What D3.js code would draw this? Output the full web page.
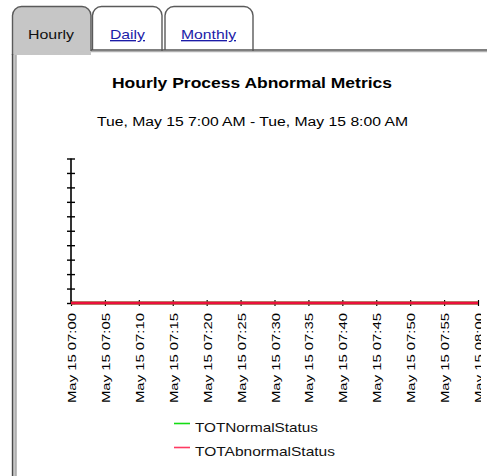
<!DOCTYPE html>
<html>
<head>
<meta charset="utf-8">
<script src="https://cdn.jsdelivr.net/npm/d3@7"></script>
<style>
  html, body { margin: 0; padding: 0; background: #fff; overflow: hidden; }
  svg { display: block; font-family: "Liberation Sans", Arial, Helvetica, sans-serif; }
</style>
</head>
<body>
<svg id="page" width="487" height="476"></svg>
<script>
// Five-minute sample times across the hour
const timeLabels = [
  "May 15 07:00", "May 15 07:05", "May 15 07:10", "May 15 07:15", "May 15 07:20",
  "May 15 07:25", "May 15 07:30", "May 15 07:35", "May 15 07:40", "May 15 07:45",
  "May 15 07:50", "May 15 07:55", "May 15 08:00"
];
// Status counts per sample
const totNormalStatus   = [0, 0, 0, 0, 0, 0, 0, 0, 0, 0, 0, 0, 0];
const totAbnormalStatus = [0, 0, 0, 0, 0, 0, 0, 0, 0, 0, 0, 0, 0];
// Unlabelled value ticks on the vertical axis
const yTickValues = [0, 1, 2, 3, 4, 5, 6, 7, 8, 9, 10];
const seriesNames = ["TOTNormalStatus", "TOTAbnormalStatus"];
const tabNames = ["Hourly", "Daily", "Monthly"];
const chartTitle = "Hourly Process Abnormal Metrics";
const chartSubtitle = "Tue, May 15 7:00 AM - Tue, May 15 8:00 AM";

const svg = d3.select("#page");
const W = 487, H = 476;

// ---------- tab strip and panel ----------
const tabs = [
  { name: tabNames[0], x0: 12.5, x1: 91, active: true,  tx: 28,  tw: 46 },
  { name: tabNames[1], x0: 92.5, x1: 162, active: false, tx: 110, tw: 35 },
  { name: tabNames[2], x0: 165, x1: 253, active: false, tx: 181, tw: 55 }
];
const tabR = 9, tabTop = 6.5, lineY = 50, panelTop = 55;

// gray frame strip under the active tab and down the left side
svg.append("rect").attr("x", 12.5).attr("y", lineY - 2).attr("width", 78.5).attr("height", panelTop - lineY + 2)
  .attr("fill", "#c6c6c6");
svg.append("rect").attr("x", 12.5).attr("y", lineY).attr("width", 4).attr("height", H)
  .attr("fill", "#c6c6c6");

tabs.forEach(t => {
  const bottom = t.active ? panelTop : lineY;
  const p = d3.path();
  p.moveTo(t.x0, bottom);
  p.lineTo(t.x0, tabTop + tabR);
  p.arcTo(t.x0, tabTop, t.x0 + tabR, tabTop, tabR);
  p.lineTo(t.x1 - tabR, tabTop);
  p.arcTo(t.x1, tabTop, t.x1, tabTop + tabR, tabR);
  p.lineTo(t.x1, lineY + 1);
  svg.append("path").attr("d", p.toString())
    .attr("fill", t.active ? "#c6c6c6" : "#fff")
    .attr("stroke", "#5a5a5a").attr("stroke-width", 1.4);
  svg.append("text")
    .attr("x", t.tx).attr("y", 39)
    .attr("font-size", 13.5)
    .attr("textLength", t.tw).attr("lengthAdjust", "spacingAndGlyphs")
    .attr("fill", t.active ? "#111" : "#1c1ca8")
    .attr("text-decoration", t.active ? null : "underline")
    .text(t.name);
});
// panel left frame: dark outer edge, light inner edge
svg.append("line").attr("x1", 12.5).attr("x2", 12.5).attr("y1", panelTop - 1).attr("y2", H)
  .attr("stroke", "#4a4a4a").attr("stroke-width", 1.4);
svg.append("line").attr("x1", 16).attr("x2", 16).attr("y1", panelTop).attr("y2", H)
  .attr("stroke", "#9a9a9a").attr("stroke-width", 1);
// panel top rule beside the active tab
svg.append("line").attr("x1", 91).attr("x2", W).attr("y1", lineY).attr("y2", lineY)
  .attr("stroke", "#555").attr("stroke-width", 1.3);
svg.append("line").attr("x1", 91).attr("x2", W).attr("y1", lineY + 1.6).attr("y2", lineY + 1.6)
  .attr("stroke", "#b0b0b0").attr("stroke-width", 1.2);

// ---------- titles ----------
svg.append("text").attr("x", 112).attr("y", 87.5)
  .attr("font-size", 15).attr("font-weight", "bold")
  .attr("textLength", 280).attr("lengthAdjust", "spacingAndGlyphs")
  .attr("fill", "#000").text(chartTitle);
svg.append("text").attr("x", 97).attr("y", 126)
  .attr("font-size", 12.5)
  .attr("textLength", 311).attr("lengthAdjust", "spacingAndGlyphs")
  .attr("fill", "#000").text(chartSubtitle);

// ---------- chart ----------
const chart = svg.append("g");
chart.append("clipPath").attr("id", "plotclip")
  .append("rect").attr("x", 0).attr("y", 140).attr("width", 481).attr("height", 300);
const plot = chart.append("g").attr("clip-path", "url(#plotclip)");

const x = d3.scalePoint().domain(timeLabels).range([71, 478]);
const y = d3.scaleLinear().domain([0, 10]).range([303, 158.5]);

// vertical axis: ticks cross the axis line, no labels
const yAxis = plot.append("g").attr("transform", "translate(71,0)")
  .call(d3.axisLeft(y).tickValues(yTickValues).tickSize(4).tickFormat(""));
yAxis.select(".domain").remove();
yAxis.append("line").attr("x1", 0).attr("x2", 0)
  .attr("y1", y(10)).attr("y2", y(0)).attr("stroke", "#000").attr("stroke-width", 1.6);
yAxis.selectAll(".tick line").attr("x1", -4).attr("x2", 4)
  .attr("stroke", "#000").attr("stroke-width", 1.4);

// horizontal axis with rotated time labels
const xAxis = plot.append("g").attr("transform", `translate(0,${y(0)})`)
  .call(d3.axisBottom(x).tickSize(3));
xAxis.select(".domain").remove();
xAxis.selectAll(".tick line").attr("y1", -3).attr("y2", 3)
  .attr("stroke", "#000").attr("stroke-width", 1.2);
xAxis.selectAll(".tick text")
  .attr("font-family", "\"Liberation Sans\", Arial, sans-serif")
  .attr("font-size", 11).attr("fill", "#000")
  .attr("text-anchor", "start").attr("dy", null)
  .attr("textLength", 90).attr("lengthAdjust", "spacingAndGlyphs")
  .attr("transform", "translate(4.5,100) rotate(-90)")
  .attr("x", 0).attr("y", 0);

// series lines (abnormal drawn last, on top)
const colors = ["#10c010", "#ec0f3c"];
const line = d3.line().x((d, i) => x(timeLabels[i])).y(d => y(d));
[totNormalStatus, totAbnormalStatus].forEach((vals, k) => {
  plot.append("path").datum(vals).attr("d", line)
    .attr("fill", "none").attr("stroke", colors[k]).attr("stroke-width", 3);
});

// ---------- legend ----------
const legend = svg.append("g");
const legendText = [123, 140];
seriesNames.forEach((name, k) => {
  const ly = 423.5 + k * 24;
  legend.append("line").attr("x1", 174).attr("x2", 190).attr("y1", ly).attr("y2", ly)
    .attr("stroke", k === 0 ? "#14dc14" : "#ff3a62").attr("stroke-width", 1.6);
  legend.append("text").attr("x", 195).attr("y", ly + 8.5)
    .attr("font-size", 13)
    .attr("textLength", legendText[k]).attr("lengthAdjust", "spacingAndGlyphs")
    .attr("fill", "#111").text(name);
});
</script>
</body>
</html>
